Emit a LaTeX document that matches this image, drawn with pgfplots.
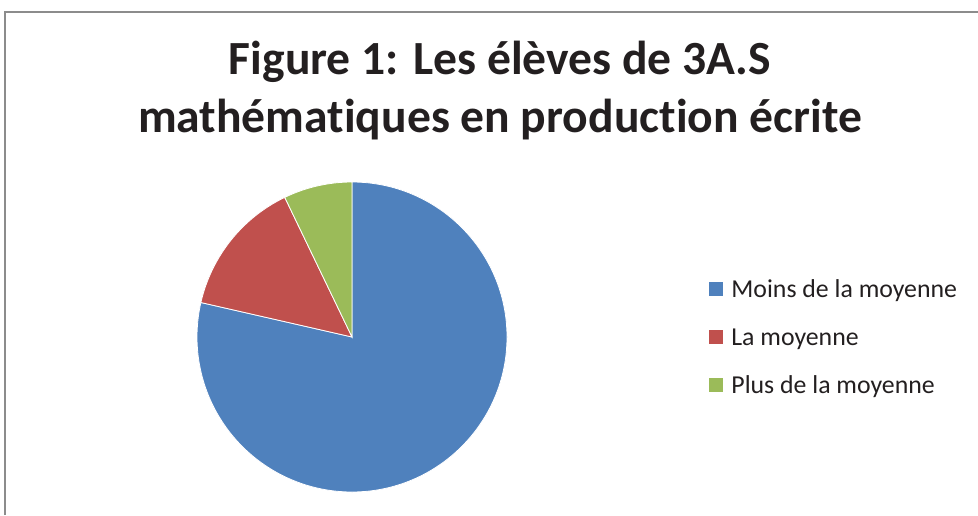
\documentclass[border=0pt]{standalone}
\usepackage{pgfplots}
\usepackage{pgfplotstable}
\pgfplotsset{compat=1.18}
\usepackage{fontspec}
\setmainfont{Carlito}[Ligatures={NoCommon,TeX}]
\definecolor{cblue}{HTML}{4F81BD}
\definecolor{cred}{HTML}{C0504D}
\definecolor{cgreen}{HTML}{9BBB59}
\definecolor{frame}{RGB}{140,140,140}
\definecolor{txt}{RGB}{35,31,32}
\pgfplotstableread{
idx value
0 22
1 4
2 2
}\piedata
\begin{document}%
\begin{tikzpicture}
\pgfplotstablegetelem{0}{value}\of\piedata\let\va\pgfplotsretval
\pgfplotstablegetelem{1}{value}\of\piedata\let\vb\pgfplotsretval
\pgfplotstablegetelem{2}{value}\of\piedata\let\vc\pgfplotsretval
\pgfmathsetmacro{\tot}{\va+\vb+\vc}
\pgfmathsetmacro{\aA}{90-360*\va/\tot}
\pgfmathsetmacro{\aB}{\aA-360*\vb/\tot}
\pgfmathsetmacro{\aC}{\aB-360*\vc/\tot}
\begin{axis}[name=ax,
  width=489pt, height=257.5pt, scale only axis,
  xmin=0, xmax=978, ymin=0, ymax=515,
  hide axis, clip=false]
% frame
\draw[frame, line width=1pt] (axis cs:5,0) -- (axis cs:5,503) -- (axis cs:978,503);
% pie slices
\fill[cblue, draw=white, line width=0.4pt] (axis cs:352,178) -- ++(90:77.5pt) arc[start angle=90, end angle=\aA, radius=77.5pt] -- cycle;
\fill[cred, draw=white, line width=0.4pt] (axis cs:352,178) -- ++(\aA:77.5pt) arc[start angle=\aA, end angle=\aB, radius=77.5pt] -- cycle;
\fill[cgreen, draw=white, line width=0.4pt] (axis cs:352,178) -- ++(\aB:77.5pt) arc[start angle=\aB, end angle=\aC, radius=77.5pt] -- cycle;
% title
\node[anchor=base, text=txt, font=\fontsize{23.8}{28}\selectfont\bfseries, inner sep=0pt] at (axis cs:500,440) {Figure 1: Les élèves de 3A.S};
\node[anchor=base, text=txt, font=\fontsize{23.8}{28}\selectfont\bfseries, inner sep=0pt] at (axis cs:500,382) {mathématiques en production écrite};
% legend
\fill[cblue] (axis cs:709,219) rectangle (axis cs:723,233);
\fill[cred] (axis cs:709,171) rectangle (axis cs:723,185);
\fill[cgreen] (axis cs:709,123) rectangle (axis cs:723,137);
\node[anchor=base west, text=txt, font=\fontsize{12.9}{15}\selectfont, inner sep=0pt] at (axis cs:731,218) {Moins de la moyenne};
\node[anchor=base west, text=txt, font=\fontsize{12.9}{15}\selectfont, inner sep=0pt] at (axis cs:731,170) {La moyenne};
\node[anchor=base west, text=txt, font=\fontsize{12.9}{15}\selectfont, inner sep=0pt] at (axis cs:731,122) {Plus de la moyenne};
\end{axis}
\pgfresetboundingbox
\useasboundingbox (ax.south west) rectangle (ax.north east);
\end{tikzpicture}%
\end{document}
